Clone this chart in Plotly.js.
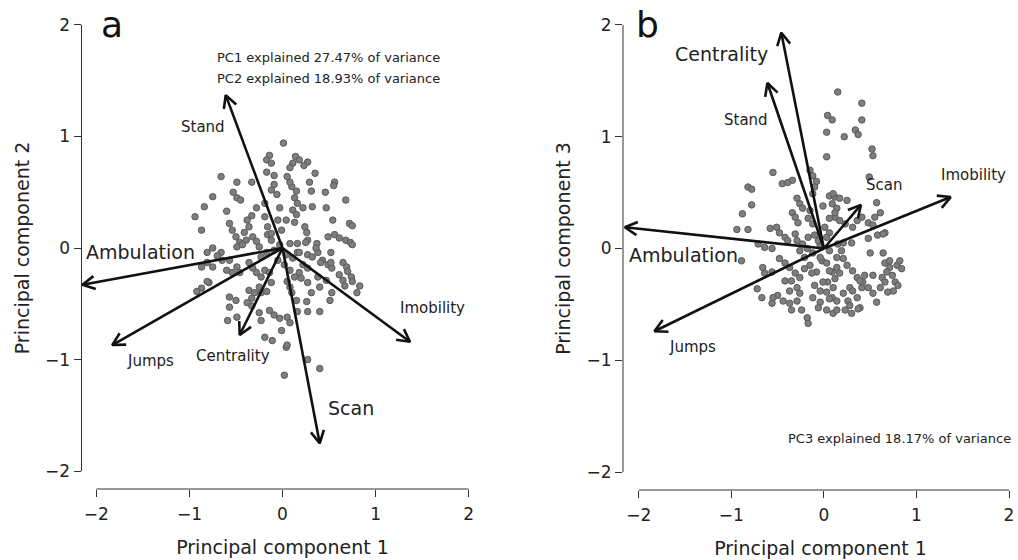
<!DOCTYPE html>
<html><head><meta charset="utf-8">
<script src="https://cdn.plot.ly/plotly-3.0.1.min.js"></script>
<style>html,body{margin:0;padding:0;background:#fff;}#chart{width:1018px;height:560px;}</style>
</head><body><div id="chart"></div>
<script>
// ---- data ----
const variables = ['Stand','Ambulation','Jumps','Centrality','Scan','Imobility'];
const loadPC1 = [-0.61,-2.15,-1.83,-0.46,0.40,1.37];
const loadPC2 = [1.37,-0.33,-0.87,-0.78,-1.75,-0.84];
const loadPC3 = [1.48,0.19,-0.74,1.93,0.39,0.46];

const scoresA_pc1 = [0.01,-0.14,-0.17,-0.12,0.14,0.18,0.11,0.08,0.27,0.23,
 0.35,0.56,0.55,-0.66,-0.49,-0.33,-0.17,-0.09,-0.09,-0.12,
 -0.06,0.10,0.15,0.13,0.16,0.22,0.05,0.08,0.29,0.31,
 0.46,0.68,-0.53,-0.49,-0.45,-0.75,-0.84,-0.94,-0.87,-0.60,
 -0.57,-0.54,-0.38,-0.33,-0.36,-0.41,-0.39,-0.28,-0.19,-0.19,
 -0.16,-0.16,-0.03,-0.05,-0.01,0.11,0.15,0.04,0.13,0.24,
 0.26,0.32,0.47,0.54,0.72,0.75,0.49,0.56,0.61,0.68,
 0.73,0.75,0.27,0.37,0.16,0.16,-0.75,-0.66,-0.70,-0.50,
 -0.46,-0.49,-0.43,-0.32,-0.28,-0.25,-0.17,-0.23,-0.12,-0.12,
 0.18,0.27,0.32,0.38,0.43,0.49,0.53,0.65,0.69,0.70,
 0.74,0.75,0.83,0.80,0.61,0.65,0.67,0.38,0.40,0.47,
 0.53,0.51,0.40,0.27,0.31,0.26,0.27,0.18,0.20,0.08,
 0.13,0.05,0.08,0.10,0.15,0.16,0.05,0.08,-0.01,-0.14,
 -0.09,-0.03,-0.23,-0.25,-0.19,-0.11,0.04,0.27,0.40,0.02,
 -0.57,-0.57,-0.50,-0.49,-0.59,-0.36,-0.33,-0.30,-0.38,-0.33,
 -0.25,-0.23,-0.17,-0.28,-0.23,-0.19,-0.14,-0.12,-0.36,-0.32,
 -0.49,-0.46,-0.54,-0.60,-0.57,-0.65,-0.79,-0.87,-0.92,-0.81,
 -0.75,-0.81,-0.87,-0.81,0.05,0.22,0.27,0.36,0.25,0.08,
 0.52,0.41,0.52,-0.03,0.04,-0.05,0.02,0.11,-0.09];
const scoresA_pc2 = [0.94,0.83,0.79,0.76,0.82,0.79,0.76,0.72,0.77,0.74,
 0.67,0.59,0.56,0.64,0.59,0.59,0.68,0.65,0.57,0.52,
 0.48,0.55,0.51,0.45,0.40,0.36,0.64,0.59,0.59,0.51,
 0.50,0.43,0.50,0.45,0.43,0.46,0.37,0.28,0.16,0.33,
 0.22,0.16,0.25,0.29,0.19,0.14,0.07,0.36,0.40,0.28,
 0.19,0.12,0.36,0.25,0.16,0.34,0.30,0.25,0.23,0.19,
 0.14,0.37,0.36,0.25,0.22,0.20,0.10,0.12,0.09,0.07,
 0.05,0.03,0.07,0.04,0.04,-0.04,0.00,-0.04,-0.07,0.10,
 0.05,0.01,0.03,0.10,0.06,0.01,-0.04,-0.08,0.13,0.07,
 -0.04,-0.06,-0.08,-0.04,-0.11,-0.15,-0.18,-0.13,-0.17,-0.21,
 -0.26,-0.30,-0.34,-0.40,-0.24,-0.29,-0.34,-0.26,-0.35,-0.29,
 -0.40,-0.47,-0.57,-0.31,-0.40,-0.48,-0.57,-0.22,-0.27,-0.20,
 -0.26,-0.30,-0.35,-0.40,-0.47,-0.57,-0.62,-0.67,-0.74,-0.56,
 -0.60,-0.63,-0.65,-0.58,-0.80,-0.83,-0.89,-1.00,-1.08,-1.14,
 -0.44,-0.53,-0.47,-0.62,-0.65,-0.38,-0.45,-0.40,-0.49,-0.52,
 -0.35,-0.40,-0.39,-0.22,-0.26,-0.20,-0.22,-0.31,-0.13,-0.18,
 -0.17,-0.22,-0.22,-0.20,-0.11,-0.11,-0.31,-0.36,-0.39,-0.13,
 -0.17,-0.04,-0.17,-0.30,-0.87,-0.15,-0.18,0.00,0.05,0.04,
 -0.04,-0.13,-0.13,0.03,-0.06,-0.11,-0.15,-0.09,-0.02];

const scoresB_pc1 = [0.15,0.41,0.04,0.09,0.41,0.03,0.22,0.34,0.37,0.52,
 0.53,0.03,0.49,0.57,-0.55,-0.82,-0.78,-0.78,-0.88,-0.94,
 -0.82,-0.45,-0.39,-0.34,-0.15,-0.12,-0.08,-0.10,-0.12,-0.29,
 -0.26,-0.23,-0.15,-0.34,-0.31,-0.28,-0.17,-0.12,-0.01,0.06,
 0.12,0.17,0.25,0.09,0.14,0.12,0.17,-0.58,-0.51,-0.48,
 -0.42,-0.39,-0.31,-0.71,-0.64,-0.56,-0.29,-0.23,-0.26,-0.18,
 -0.17,-0.10,0.01,0.06,0.03,0.23,0.31,0.48,0.55,0.61,
 0.66,0.50,0.64,0.66,0.71,-0.66,-0.64,-0.56,-0.48,-0.42,
 -0.37,-0.31,-0.26,-0.15,-0.08,-0.02,0.03,0.14,0.21,0.25,
 0.31,0.36,0.09,0.12,0.04,-0.72,-0.67,-0.56,-0.50,-0.44,
 -0.37,-0.29,-0.26,-0.29,-0.35,-0.24,-0.18,-0.17,-0.12,-0.04,
 -0.06,0.03,0.09,0.14,0.03,0.10,0.21,0.26,0.28,0.36,
 0.39,0.23,0.30,0.48,0.53,0.57,0.53,0.63,0.68,0.79,
 -0.89,-0.55,-0.37,-0.42,-0.35,-0.21,-0.13,-0.10,-0.04,0.12,
 0.06,0.36,0.41,0.53,0.58,0.64,0.48,0.15,0.21,0.30,
 0.71,0.82,0.84,0.74,0.66,0.77,0.80,0.75,0.69,0.61,
 -0.04,0.06,0.14,0.17,-0.01,0.10,0.06,0.28,0.37,0.31,
 0.41,0.42,0.44,0.39,0.14,0.10,-0.04,-0.12,0.06,-0.21,
 0.19,-0.06];
const scoresB_pc3 = [1.40,1.30,1.19,1.15,1.15,1.04,1.00,1.06,1.02,0.89,
 0.83,0.82,0.64,0.41,0.68,0.55,0.53,0.39,0.31,0.17,
 0.17,0.58,0.59,0.61,0.70,0.65,0.60,0.55,0.49,0.45,
 0.40,0.36,0.34,0.32,0.28,0.23,0.27,0.22,0.38,0.47,
 0.46,0.45,0.43,0.40,0.36,0.28,0.25,0.18,0.19,0.14,
 0.10,0.07,0.13,0.04,0.01,0.00,0.07,0.04,-0.02,0.00,
 0.10,0.12,0.19,0.14,0.10,0.22,0.19,0.23,0.28,0.32,
 0.14,-0.04,-0.04,-0.13,-0.17,-0.17,-0.22,-0.21,-0.09,-0.13,
 -0.17,-0.22,-0.26,-0.15,-0.21,-0.11,-0.13,-0.08,-0.09,-0.15,
 -0.20,-0.26,-0.21,-0.27,-0.30,-0.36,-0.44,-0.49,-0.42,-0.47,
 -0.38,-0.35,-0.40,-0.47,-0.55,-0.55,-0.62,-0.67,-0.44,-0.48,
 -0.53,-0.39,-0.44,-0.47,-0.55,-0.58,-0.40,-0.47,-0.35,-0.44,
 -0.53,-0.55,-0.58,-0.35,-0.40,-0.48,-0.24,-0.26,-0.21,-0.15,
 -0.11,-0.44,-0.49,-0.29,-0.29,-0.18,-0.22,-0.33,-0.38,0.32,
 0.27,0.25,0.28,0.21,0.12,0.13,0.09,0.04,0.05,0.05,
 -0.11,-0.11,-0.18,-0.24,-0.30,-0.30,-0.33,-0.38,-0.39,-0.35,
 -0.08,-0.20,-0.17,-0.22,-0.30,-0.35,-0.45,-0.51,-0.54,-0.38,
 -0.35,-0.30,-0.24,-0.29,-0.55,0.49,0.03,-0.04,-0.02,-0.08,
 -0.02,0.07];

const varianceText = ['PC1 explained 27.47% of variance','PC2 explained 18.93% of variance','PC3 explained 18.17% of variance'];
const tickValues = [-2,-1,0,1,2];
const panelLetters = ['a','b'];
const axisTitles = ['Principal component 1','Principal component 2','Principal component 3'];

// ---- layout geometry (pixels) ----
const W = 1018, H = 560;
const FONT = 'DejaVu Sans';
const geom = {
  a: {xd:[81.5/W, 483.5/W], yd:[1-489/H, 1-7/H], xr:[-2.16,2.16], yr:[-2.16,2.16]},
  b: {xd:[623/W, 1], yd:[1-490/H, 1-7/H], xr:[-2.17,2.097], yr:[-2.16,2.16]}
};
// label placement (data units) and font sizes per variable, per panel
const labelPosA = [[-0.85,1.08,15],[-1.53,-0.04,19],[-1.42,-1.01,15],[-0.53,-0.97,15],[0.74,-1.43,19],[1.61,-0.54,15]];
const labelPosB = [[-0.84,1.15,15],[-1.52,-0.06,19],[-1.42,-0.88,15],[-1.11,1.74,19],[0.65,0.57,15],[1.62,0.66,15]];

function arrowTrace(lx, ly, g, xa, ya) {
  const sx = (g.xd[1]-g.xd[0])*W/(g.xr[1]-g.xr[0]);
  const sy = (g.yd[1]-g.yd[0])*H/(g.yr[1]-g.yr[0]);
  const L = 14, ang = 28*Math.PI/180;
  const X = [], Y = [];
  for (let i=0;i<lx.length;i++){
    const tx = lx[i], ty = ly[i];
    const px = tx*sx, py = ty*sy;
    const len = Math.hypot(px,py);
    const ux = -px/len, uy = -py/len;
    const b = [ang,-ang].map(a => [ux*Math.cos(a)-uy*Math.sin(a), ux*Math.sin(a)+uy*Math.cos(a)]);
    X.push(0, tx, null, tx + L*b[0][0]/sx, tx, tx + L*b[1][0]/sx, null);
    Y.push(0, ty, null, ty + L*b[0][1]/sy, ty, ty + L*b[1][1]/sy, null);
  }
  return {type:'scatter', mode:'lines', x:X, y:Y, xaxis:xa, yaxis:ya,
    line:{color:'#111', width:2.6}, hoverinfo:'skip', showlegend:false};
}

const markerStyle = {size:6.5, color:'#7e7e7e', line:{color:'#5a5a5a', width:1}};
const traces = [
  {type:'scatter', mode:'markers', x:scoresA_pc1, y:scoresA_pc2, xaxis:'x', yaxis:'y', marker:markerStyle, showlegend:false, cliponaxis:false},
  {type:'scatter', mode:'markers', x:scoresB_pc1, y:scoresB_pc3, xaxis:'x2', yaxis:'y2', marker:markerStyle, showlegend:false, cliponaxis:false},
  arrowTrace(loadPC1, loadPC2, geom.a, 'x', 'y'),
  arrowTrace(loadPC1, loadPC3, geom.b, 'x2', 'y2')
];

const tickFont = {family:FONT, size:17, color:'#222'};
const titleFont = {family:FONT, size:19, color:'#222'};
function xAxis(g, anchor, title){
  return {domain:g.xd, range:g.xr, anchor:anchor, tickvals:tickValues, ticks:'outside', ticklen:7,
    tickcolor:'#333', tickwidth:1, showline:false, showgrid:false, zeroline:false, tickfont:tickFont,
    ticklabelstandoff:3,
    title:{text:title, font:titleFont, standoff:17}, automargin:false, fixedrange:true};
}
function yAxis(g, anchor, title){
  return {domain:g.yd, range:g.yr, anchor:anchor, tickvals:tickValues, ticks:'outside', ticklen:7,
    tickcolor:'#333', tickwidth:1, showline:false, showgrid:false, zeroline:false, tickfont:tickFont,
    title:{text:title, font:titleFont, standoff:10}, automargin:false, fixedrange:true};
}

const annotations = [];
variables.forEach((v,i)=>{
  annotations.push({xref:'x', yref:'y', x:labelPosA[i][0], y:labelPosA[i][1], text:v, showarrow:false,
    font:{family:FONT, size:labelPosA[i][2], color:'#222'}});
  annotations.push({xref:'x2', yref:'y2', x:labelPosB[i][0], y:labelPosB[i][1], text:v, showarrow:false,
    font:{family:FONT, size:labelPosB[i][2], color:'#222'}});
});
const varFont = {family:FONT, size:13, color:'#222'};
annotations.push({xref:'x', yref:'y', x:-0.73, y:1.71, xanchor:'left', text:varianceText[0], showarrow:false, font:varFont});
annotations.push({xref:'x', yref:'y', x:-0.73, y:1.52, xanchor:'left', text:varianceText[1], showarrow:false, font:varFont});
annotations.push({xref:'x2', yref:'y2', x:-0.41, y:-1.70, xanchor:'left', text:varianceText[2], showarrow:false, font:varFont});
annotations.push({xref:'paper', yref:'paper', x:99/W, y:1-25/H, xanchor:'left', yanchor:'middle', text:panelLetters[0], showarrow:false, font:{family:FONT, size:36, color:'#111'}});
annotations.push({xref:'paper', yref:'paper', x:634/W, y:1-25/H, xanchor:'left', yanchor:'middle', text:panelLetters[1], showarrow:false, font:{family:FONT, size:36, color:'#111'}});

const axLine = {color:'#333', width:1};
const shapes = [
  {type:'line', xref:'x', yref:'y domain', x0:-2, x1:2, y0:0, y1:0, line:axLine},
  {type:'line', xref:'x domain', yref:'y', x0:0, x1:0, y0:-2, y1:2, line:axLine},
  {type:'line', xref:'x2', yref:'y2 domain', x0:-2, x1:2, y0:0, y1:0, line:axLine},
  {type:'line', xref:'x2 domain', yref:'y2', x0:0, x1:0, y0:-2, y1:2, line:axLine}
];

const layout = {
  width:W, height:H, margin:{l:0, r:0, t:0, b:0},
  paper_bgcolor:'#fff', plot_bgcolor:'#fff', showlegend:false,
  font:{family:FONT, color:'#222'},
  xaxis: xAxis(geom.a, 'y', axisTitles[0]),
  yaxis: yAxis(geom.a, 'x', axisTitles[1]),
  xaxis2: xAxis(geom.b, 'y2', axisTitles[0]),
  yaxis2: yAxis(geom.b, 'x2', axisTitles[2]),
  annotations: annotations, shapes: shapes
};
Plotly.newPlot('chart', traces, layout, {displayModeBar:false, staticPlot:true});
</script></body></html>
